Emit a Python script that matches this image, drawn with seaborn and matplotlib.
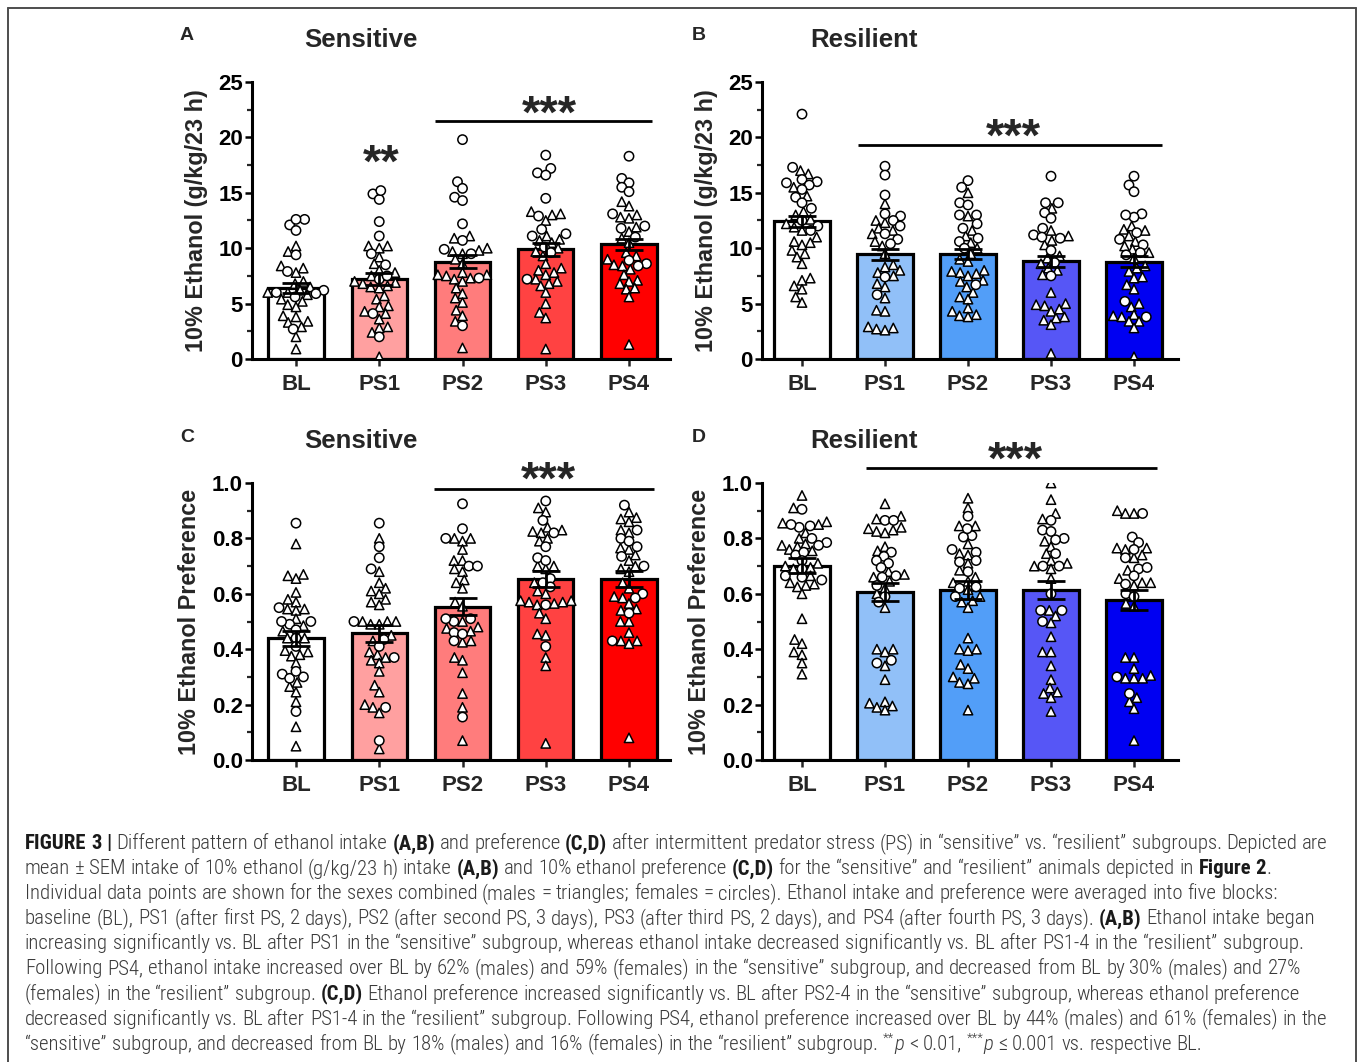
import re
import warnings
import numpy as np
import pandas as pd
import matplotlib
matplotlib.use("Agg")
import matplotlib.pyplot as plt
import seaborn as sns
from matplotlib.markers import MarkerStyle
from matplotlib.ticker import MultipleLocator, FormatStrFormatter
from matplotlib import font_manager
from matplotlib.font_manager import FontProperties
from matplotlib.lines import Line2D
from matplotlib.transforms import Affine2D

warnings.filterwarnings("ignore")

# ---------------------------------------------------------------- data
BLOCKS = ["BL", "PS1", "PS2", "PS3", "PS4"]
RED_COLORS = ["#FFFFFF", "#FFA0A0", "#FF7C7C", "#FF4242", "#FF0000"]
BLUE_COLORS = ["#FFFFFF", "#91C0F8", "#529EF8", "#5656F6", "#0000F2"]

# Panel A: sensitive, intake (g/kg/23 h)
A_MEAN = [6.45, 7.22, 8.78, 9.90, 10.35]
A_SEM = [0.45, 0.50, 0.60, 0.58, 0.48]
A_BL_M = [10.2, 9.7, 8.2, 7.8, 8.4, 7.0, 6.8, 6.5, 6.2, 6.0, 6.0, 5.8, 5.4, 5.2, 4.9, 4.7, 3.9, 3.8, 3.4, 3.3, 2.9, 2.0, 0.9]
A_BL_F = [12.6, 12.1, 11.6, 12.6, 9.4, 7.9, 6.2, 5.6, 5.9, 6.0, 2.7]
A_PS1_M = [10.2, 10.0, 9.2, 10.2, 8.6, 8.0, 7.8, 7.5, 7.0, 6.8, 6.6, 6.5, 6.4, 6.9, 5.7, 5.4, 4.7, 4.8, 4.3, 4.1, 3.6, 2.9, 2.4, 2.8, 0.2]
A_PS1_F = [14.9, 14.4, 15.2, 12.4, 11.1, 9.5, 8.5, 7.2, 7.5, 4.1, 2.0]
A_PS2_M = [11.1, 10.9, 10.0, 9.8, 9.7, 9.5, 9.0, 8.6, 7.8, 7.6, 7.6, 7.5, 7.3, 7.2, 7.0, 6.4, 5.9, 5.5, 5.1, 4.4, 3.9, 3.4, 1.0]
A_PS2_F = [19.8, 16.0, 15.4, 14.6, 14.3, 12.2, 10.7, 9.9, 9.5, 7.3, 3.0]
A_PS3_M = [13.3, 13.0, 13.1, 12.5, 11.1, 10.8, 10.7, 10.5, 10.0, 9.7, 9.3, 8.6, 8.2, 8.0, 7.8, 7.6, 7.2, 7.0, 6.8, 6.6, 6.0, 5.0, 4.2, 3.7, 0.9]
A_PS3_F = [18.4, 17.2, 16.8, 16.6, 14.5, 12.9, 11.7, 11.3, 11.1, 10.1, 9.6, 7.2]
A_PS4_M = [14.2, 13.8, 13.0, 12.7, 12.8, 11.9, 11.5, 10.9, 10.5, 9.6, 9.3, 9.0, 8.5, 8.4, 8.1, 7.6, 7.1, 7.0, 6.8, 6.4, 6.3, 5.6, 1.3]
A_PS4_F = [18.3, 16.3, 15.9, 15.5, 15.1, 13.1, 12.0, 11.8, 11.0, 8.9, 8.6, 8.4]

# Panel B: resilient, intake
B_MEAN = [12.42, 9.45, 9.48, 8.80, 8.78]
B_SEM = [0.53, 0.48, 0.45, 0.53, 0.50]
B_BL_M = [17.0, 16.7, 15.5, 14.7, 13.3, 13.0, 12.6, 12.2, 11.9, 11.6, 11.0, 10.6, 10.5, 10.3, 9.8, 9.5, 9.2, 8.6, 7.3, 7.1, 6.6, 6.3, 5.6, 5.1]
B_BL_F = [22.1, 17.3, 16.0, 16.2, 15.9, 15.7, 15.3, 14.6, 14.1, 13.6, 12.5, 12.0, 11.6]
B_PS1_M = [14.0, 12.5, 12.3, 11.8, 11.6, 11.3, 10.6, 10.2, 9.5, 8.5, 8.3, 8.0, 7.8, 7.5, 6.8, 6.5, 5.5, 4.4, 4.3, 2.9, 2.8, 2.7, 2.6]
B_PS1_F = [17.4, 16.6, 14.8, 13.1, 12.9, 12.5, 12.0, 11.3, 10.8, 10.4, 7.4, 5.8]
B_PS2_M = [15.0, 12.9, 11.6, 11.1, 10.5, 10.0, 9.5, 9.0, 8.8, 8.0, 7.9, 7.8, 7.7, 7.5, 7.1, 7.0, 6.5, 6.0, 5.6, 5.4, 4.6, 4.3, 4.0, 3.9, 3.8]
B_PS2_F = [16.1, 15.5, 14.1, 13.9, 13.0, 13.0, 12.2, 11.8, 10.9, 10.6, 10.0, 6.7]
B_PS3_M = [13.6, 11.6, 11.1, 10.7, 10.3, 9.3, 9.1, 8.6, 8.2, 8.0, 7.6, 6.0, 5.0, 4.9, 4.8, 4.5, 4.3, 3.8, 3.7, 3.5, 3.1, 0.5]
B_PS3_F = [16.5, 14.1, 14.1, 13.2, 12.7, 11.8, 11.2, 11.0, 10.9, 9.8, 8.7, 7.5]
B_PS4_M = [12.0, 11.7, 11.6, 11.1, 10.6, 10.2, 9.9, 9.6, 9.1, 8.4, 8.2, 7.9, 7.4, 7.3, 6.7, 6.3, 5.0, 4.7, 4.0, 3.9, 3.8, 3.4, 3.4, 2.8, 0.2]
B_PS4_F = [16.5, 15.7, 15.1, 13.1, 12.8, 13.0, 11.4, 10.8, 10.3, 9.6, 9.4, 5.2, 3.8]

# Panel C: sensitive, preference
C_MEAN = [0.440, 0.458, 0.554, 0.653, 0.654]
C_SEM = [0.027, 0.031, 0.030, 0.028, 0.028]
C_BL_M = [0.78, 0.67, 0.655, 0.665, 0.605, 0.58, 0.57, 0.545, 0.54, 0.545, 0.51, 0.485, 0.465, 0.44, 0.44, 0.39, 0.375, 0.38, 0.395, 0.35, 0.28, 0.265, 0.245, 0.21, 0.12, 0.05]
C_BL_F = [0.855, 0.55, 0.50, 0.49, 0.50, 0.47, 0.44, 0.41, 0.31, 0.295, 0.30, 0.32, 0.175]
C_PS1_M = [0.80, 0.68, 0.64, 0.61, 0.62, 0.60, 0.58, 0.57, 0.56, 0.50, 0.49, 0.50, 0.49, 0.50, 0.45, 0.43, 0.39, 0.38, 0.37, 0.36, 0.35, 0.32, 0.27, 0.245, 0.20, 0.19, 0.17, 0.04]
C_PS1_F = [0.855, 0.77, 0.73, 0.69, 0.50, 0.435, 0.41, 0.37, 0.19, 0.07]
C_PS2_M = [0.80, 0.80, 0.79, 0.76, 0.72, 0.72, 0.69, 0.68, 0.65, 0.64, 0.62, 0.57, 0.555, 0.50, 0.48, 0.475, 0.465, 0.43, 0.425, 0.37, 0.36, 0.315, 0.24, 0.19, 0.07]
C_PS2_F = [0.925, 0.835, 0.80, 0.70, 0.70, 0.51, 0.50, 0.51, 0.46, 0.455, 0.43, 0.155]
C_PS3_M = [0.91, 0.895, 0.84, 0.82, 0.80, 0.79, 0.83, 0.825, 0.70, 0.70, 0.69, 0.64, 0.61, 0.60, 0.575, 0.57, 0.57, 0.565, 0.575, 0.56, 0.53, 0.51, 0.455, 0.45, 0.37, 0.34, 0.06]
C_PS3_F = [0.935, 0.865, 0.82, 0.77, 0.73, 0.72, 0.655, 0.64, 0.625, 0.56, 0.41]
C_PS4_M = [0.895, 0.875, 0.87, 0.86, 0.83, 0.82, 0.765, 0.76, 0.74, 0.72, 0.70, 0.69, 0.68, 0.64, 0.62, 0.59, 0.585, 0.565, 0.545, 0.54, 0.50, 0.50, 0.46, 0.43, 0.43, 0.42, 0.08]
C_PS4_F = [0.92, 0.83, 0.80, 0.79, 0.77, 0.735, 0.70, 0.60, 0.585, 0.53, 0.43]

# Panel D: resilient, preference
D_MEAN = [0.702, 0.606, 0.614, 0.614, 0.577]
D_SEM = [0.026, 0.032, 0.032, 0.034, 0.035]
D_BL_M = [0.955, 0.91, 0.855, 0.85, 0.86, 0.82, 0.80, 0.78, 0.775, 0.77, 0.76, 0.755, 0.71, 0.70, 0.695, 0.69, 0.665, 0.64, 0.63, 0.625, 0.635, 0.60, 0.51, 0.435, 0.42, 0.39, 0.38, 0.35, 0.31]
D_BL_F = [0.905, 0.84, 0.845, 0.85, 0.80, 0.785, 0.775, 0.74, 0.75, 0.72, 0.69, 0.665, 0.65, 0.66]
D_PS1_M = [0.925, 0.88, 0.87, 0.84, 0.835, 0.83, 0.825, 0.82, 0.77, 0.755, 0.68, 0.67, 0.66, 0.645, 0.62, 0.60, 0.55, 0.40, 0.39, 0.40, 0.34, 0.29, 0.21, 0.195, 0.18, 0.19, 0.205]
D_PS1_F = [0.865, 0.865, 0.75, 0.735, 0.72, 0.71, 0.695, 0.665, 0.66, 0.63, 0.59, 0.57, 0.36, 0.35]
D_PS2_M = [0.945, 0.91, 0.845, 0.845, 0.78, 0.745, 0.74, 0.71, 0.685, 0.66, 0.645, 0.64, 0.615, 0.59, 0.575, 0.57, 0.55, 0.44, 0.40, 0.395, 0.40, 0.345, 0.33, 0.30, 0.28, 0.275, 0.295, 0.18]
D_PS2_F = [0.88, 0.81, 0.805, 0.835, 0.76, 0.75, 0.72, 0.715, 0.68, 0.625, 0.62, 0.59]
D_PS3_M = [1.0, 0.94, 0.89, 0.87, 0.79, 0.77, 0.745, 0.72, 0.71, 0.70, 0.69, 0.655, 0.54, 0.52, 0.495, 0.445, 0.39, 0.39, 0.34, 0.29, 0.26, 0.24, 0.225, 0.245, 0.175]
D_PS3_F = [0.865, 0.83, 0.825, 0.80, 0.795, 0.745, 0.70, 0.70, 0.60, 0.54, 0.54, 0.50]
D_PS4_M = [0.89, 0.89, 0.90, 0.765, 0.765, 0.76, 0.74, 0.73, 0.685, 0.655, 0.64, 0.63, 0.64, 0.555, 0.565, 0.37, 0.37, 0.33, 0.305, 0.295, 0.295, 0.295, 0.225, 0.21, 0.185, 0.07]
D_PS4_F = [0.89, 0.805, 0.785, 0.76, 0.73, 0.69, 0.695, 0.665, 0.635, 0.60, 0.59, 0.30, 0.24]

INTAKE_LABEL = "10% Ethanol (g/kg/23 h)"
PREF_LABEL = "10% Ethanol Preference"

CAPTION = [
    [("FIGURE 3 |", "b"), (" Different pattern of ethanol intake ", "n"), ("(A,B)", "b"),
     (" and preference ", "n"), ("(C,D)", "b"),
     (" after intermittent predator stress (PS) in \u201csensitive\u201d vs. \u201cresilient\u201d subgroups. Depicted are", "n")],
    [("mean \u00b1 SEM intake of 10% ethanol (g/kg/23 h) intake ", "n"), ("(A,B)", "b"),
     (" and 10% ethanol preference ", "n"), ("(C,D)", "b"),
     (" for the \u201csensitive\u201d and \u201cresilient\u201d animals depicted in ", "n"), ("Figure 2", "b"), (".", "n")],
    [("Individual data points are shown for the sexes combined (males = triangles; females = circles). Ethanol intake and preference were averaged into five blocks:", "n")],
    [("baseline (BL), PS1 (after first PS, 2 days), PS2 (after second PS, 3 days), PS3 (after third PS, 2 days), and PS4 (after fourth PS, 3 days). ", "n"),
     ("(A,B)", "b"), (" Ethanol intake began", "n")],
    [("increasing significantly vs. BL after PS1 in the \u201csensitive\u201d subgroup, whereas ethanol intake decreased significantly vs. BL after PS1-4 in the \u201cresilient\u201d subgroup.", "n")],
    [("Following PS4, ethanol intake increased over BL by 62% (males) and 59% (females) in the \u201csensitive\u201d subgroup, and decreased from BL by 30% (males) and 27%", "n")],
    [("(females) in the \u201cresilient\u201d subgroup. ", "n"), ("(C,D)", "b"),
     (" Ethanol preference increased significantly vs. BL after PS2-4 in the \u201csensitive\u201d subgroup, whereas ethanol preference", "n")],
    [("decreased significantly vs. BL after PS1-4 in the \u201cresilient\u201d subgroup. Following PS4, ethanol preference increased over BL by 44% (males) and 61% (females) in the", "n")],
    [("\u201csensitive\u201d subgroup, and decreased from BL by 18% (males) and 16% (females) in the \u201cresilient\u201d subgroup. ", "n"),
     ("**", "s"), ("p", "i"), (" < 0.01, ", "n"), ("***", "s"), ("p", "i"), (" \u2264 0.001 vs. respective BL.", "n")],
]

# ---------------------------------------------------------------- setup
sns.set_style("ticks")
plt.rcParams["font.family"] = ["Liberation Sans", "DejaVu Sans"]
plt.rcParams["font.weight"] = "bold"

W, H = 1357, 1062
fig = plt.figure(figsize=(W / 100, H / 100), dpi=100)
fig.patch.set_facecolor("white")


def fx(px):
    return px / W


def fy(py):
    return 1 - py / H


SWARM_SIZE = 4.8        # size used by the swarm layout
DRAW_SCALE = 1.4        # markers drawn a bit larger (GraphPad-like overlap)


def marker_path(m):
    ms = MarkerStyle(m)
    return ms.get_path().transformed(ms.get_transform() + Affine2D().scale(DRAW_SCALE))


TRI = marker_path("^")
CIRC = marker_path("o")


def draw_panel(rect_px, x0_px, step_px, means, sems, colors, males, females,
               ylim, major, minor, fmt, ylabel, label_x):
    left, right, top, bottom = rect_px
    ax = fig.add_axes([fx(left), fy(bottom), (right - left) / W, (bottom - top) / H])
    bars = pd.DataFrame({"block": BLOCKS, "mean": means})
    sns.barplot(data=bars, x="block", y="mean", order=BLOCKS, hue="block",
                hue_order=BLOCKS, palette=colors, legend=False, width=0.665,
                edgecolor="black", linewidth=2.3, ax=ax, zorder=2, saturation=1)
    rows = []
    for b, m, f in zip(BLOCKS, males, females):
        rows += [(b, v, "M") for v in m]
        rows += [(b, v, "F") for v in f]
    pts = pd.DataFrame(rows, columns=["block", "value", "sex"])
    n0 = len(ax.collections)
    sns.swarmplot(data=pts, x="block", y="value", order=BLOCKS, color="white",
                  edgecolor="black", linewidth=1.1, size=SWARM_SIZE, ax=ax, zorder=3)
    new = ax.collections[n0:]
    for coll, b in zip(new, BLOCKS):
        pool = [(v, s) for (bb, v, s) in rows if bb == b]
        used = [False] * len(pool)
        paths = []
        for y in coll.get_offsets()[:, 1]:
            sex = "M"
            for k, (v, s) in enumerate(pool):
                if not used[k] and abs(v - y) < 1e-9:
                    used[k] = True
                    sex = s
                    break
            paths.append(TRI if sex == "M" else CIRC)
        coll.set_paths(paths)
    ax.errorbar(x=np.arange(len(BLOCKS)), y=means, yerr=sems, fmt="none",
                ecolor="black", elinewidth=2.0, capsize=10, capthick=2.0, zorder=5)
    width_units = (right - left) / step_px
    xl = -(x0_px - left) / step_px
    ax.set_xlim(xl, xl + width_units)
    ax.set_ylim(*ylim)
    ax.yaxis.set_major_locator(MultipleLocator(major))
    ax.yaxis.set_minor_locator(MultipleLocator(minor))
    ax.yaxis.set_major_formatter(FormatStrFormatter(fmt))
    for s in ["top", "right"]:
        ax.spines[s].set_visible(False)
    for s in ["left", "bottom"]:
        ax.spines[s].set_linewidth(2.2)
        ax.spines[s].set_color("black")
    ax.tick_params(axis="y", which="major", length=5, width=1.8, pad=1.5,
                   labelsize=16, colors="black")
    ax.tick_params(axis="y", which="minor", length=3.5, width=1.6)
    ax.tick_params(axis="x", which="major", length=5, width=1.8, pad=6, labelsize=16)
    for t in ax.get_xticklabels() + ax.get_yticklabels():
        t.set_fontweight("bold")
    ax.set_xlabel("")
    ax.set_ylabel(ylabel, fontsize=16.8, fontweight="bold")
    ax.yaxis.set_label_coords(label_x, 0.5)
    ax.set_facecolor("none")
    return ax


axA = draw_panel((252, 670, 82, 359), 296, 83.25, A_MEAN, A_SEM, RED_COLORS,
                 [A_BL_M, A_PS1_M, A_PS2_M, A_PS3_M, A_PS4_M],
                 [A_BL_F, A_PS1_F, A_PS2_F, A_PS3_F, A_PS4_F],
                 (0, 25), 5, 2.5, "%d", INTAKE_LABEL, -0.105)
axB = draw_panel((762, 1178, 82, 359), 802, 83.0, B_MEAN, B_SEM, BLUE_COLORS,
                 [B_BL_M, B_PS1_M, B_PS2_M, B_PS3_M, B_PS4_M],
                 [B_BL_F, B_PS1_F, B_PS2_F, B_PS3_F, B_PS4_F],
                 (0, 25), 5, 2.5, "%d", INTAKE_LABEL, -0.106)
axC = draw_panel((252, 670, 483, 760), 296, 83.25, C_MEAN, C_SEM, RED_COLORS,
                 [C_BL_M, C_PS1_M, C_PS2_M, C_PS3_M, C_PS4_M],
                 [C_BL_F, C_PS1_F, C_PS2_F, C_PS3_F, C_PS4_F],
                 (0, 1.0), 0.2, 0.1, "%.1f", PREF_LABEL, -0.122)
axD = draw_panel((762, 1178, 483, 760), 802, 83.0, D_MEAN, D_SEM, BLUE_COLORS,
                 [D_BL_M, D_PS1_M, D_PS2_M, D_PS3_M, D_PS4_M],
                 [D_BL_F, D_PS1_F, D_PS2_F, D_PS3_F, D_PS4_F],
                 (0, 1.0), 0.2, 0.1, "%.1f", PREF_LABEL, -0.123)


def sig(ax, x1, x2, yline, xs, ys, stars):
    ax.plot([x1, x2], [yline, yline], color="black", lw=2.0, clip_on=False,
            solid_capstyle="butt", zorder=6)
    ax.text(xs, ys, stars, ha="center", va="center", fontsize=34,
            fontweight="bold", clip_on=False)


sig(axA, 1.67, 4.28, 21.48, 3.04, 22.0, "***")
axA.text(1.02, 17.55, "**", ha="center", va="center", fontsize=34, fontweight="bold")
sig(axB, 0.67, 4.34, 19.3, 2.55, 19.9, "***")
sig(axC, 1.66, 4.30, 0.978, 3.03, 1.005, "***")
sig(axD, 0.77, 4.28, 1.054, 2.57, 1.078, "***")

# titles and panel letters
for (lx, ly, letter, tx, ty, title) in [
        (187, 35, "A", 361, 40, "Sensitive"),
        (699, 35, "B", 864, 40, "Resilient"),
        (187, 437, "C", 361, 441, "Sensitive"),
        (699, 437, "D", 864, 441, "Resilient")]:
    fig.text(fx(lx), fy(ly), letter, ha="center", va="center", fontsize=14,
             fontweight="bold")
    fig.text(fx(tx), fy(ty), title, ha="center", va="center", fontsize=18.5,
             fontweight="bold")

# frame
for xs, ys in [((8, 8), (8, H + 5)), ((8, 1356), (8, 8)), ((1356, 1356), (8, H + 5))]:
    fig.add_artist(Line2D([fx(v) for v in xs], [fy(v) for v in ys], color="#4d4d4d",
                          lw=1.4, transform=fig.transFigure))

# ---------------------------------------------------------------- caption


def pick_family(cands):
    for c in cands:
        try:
            font_manager.findfont(FontProperties(family=c), fallback_to_default=False)
            return c
        except Exception:
            continue
    return "DejaVu Sans"


CAP_FAMILY = pick_family(["Liberation Sans Narrow", "Roboto Condensed", "Liberation Sans"])
renderer = fig.canvas.get_renderer()


def style_kw(style, size):
    kw = dict(family=[CAP_FAMILY, "DejaVu Sans"], fontsize=size, color="#3a3a3a",
              fontweight="light", fontstyle="normal")
    if style == "b":
        kw.update(fontweight="bold", color="#1a1a1a")
    elif style == "i":
        kw.update(fontstyle="italic")
    elif style == "s":
        kw.update(fontsize=size * 0.62)
    return kw


def measure(txt, kw):
    t = fig.text(0, 0, txt, **kw)
    w = t.get_window_extent(renderer).width
    t.remove()
    return w


def layout_line(segs, size, x_px, y_px, draw=True):
    x = x_px
    for txt, style in segs:
        kw = style_kw(style, size)
        sp = measure("x x", kw) - measure("xx", kw)
        for tok in re.findall(r"\s+|\S+", txt):
            if tok.isspace():
                x += sp * len(tok)
                continue
            dy = 0.0
            if style == "s":
                dy = size * 0.38 * 100 / 72
            if draw:
                t = fig.text(fx(x), fy(y_px - dy), tok, ha="left", va="baseline", **kw)
                x += t.get_window_extent(renderer).width
            else:
                x += measure(tok, kw)
    return x - x_px


base = 12.0
w1 = layout_line(CAPTION[0], base, 25, 0, draw=False)
cap_size = base * 1305.0 / w1
for i, segs in enumerate(CAPTION):
    layout_line(segs, cap_size, 25, 849 + i * 25.1)

fig.savefig("out.png", dpi=100, facecolor="white")
